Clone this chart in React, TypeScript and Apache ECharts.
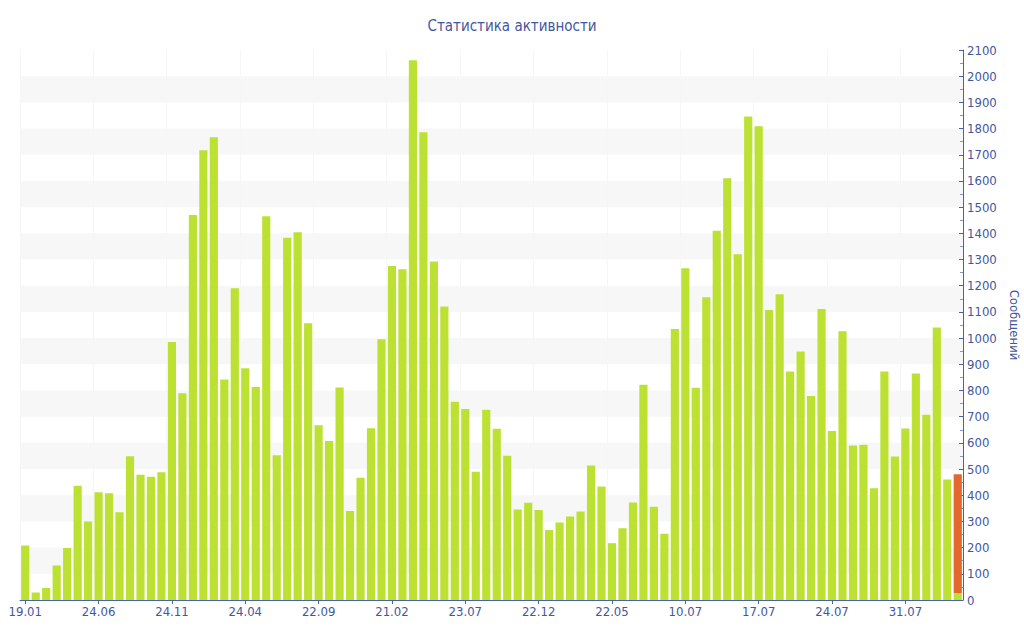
import React, { useEffect, useRef } from "react";
import * as echarts from "echarts";

const TITLE = "Статистика активности";
const Y_NAME = "Сообщений";

// tick labels shown every 7th category (index 0, 7, 14, ...)
const tickLabels = [
  "19.01", "24.06", "24.11", "24.04", "22.09", "21.02", "23.07",
  "22.12", "22.05", "10.07", "17.07", "24.07", "31.07",
];

// messages per period (green, completed)
const messageValues = [
  208, 29, 46, 132, 199, 436, 300, 411, 408, 335,
  549, 478, 471, 488, 985, 789, 1470, 1717, 1767, 842,
  1190, 885, 813, 1465, 553, 1383, 1404, 1057, 667, 607,
  811, 340, 467, 656, 996, 1275, 1263, 2061, 1786, 1292,
  1121, 757, 729, 490, 726, 654, 551, 346, 371, 344,
  267, 296, 319, 338, 514, 433, 217, 274, 372, 822,
  356, 253, 1035, 1267, 810, 1156, 1410, 1610, 1320, 1846,
  1809, 1107, 1167, 872, 949, 779, 1111, 645, 1026, 590,
  593, 427, 872, 548, 655, 865, 707, 1040, 460, 27,
];

// current (incomplete) period, stacked in orange on the last bar
const currentIndex = 89;
const currentValue = 453;

const LABEL_COLOR = "#4257a0";
const AXIS_COLOR = "#4a62a8";
const GREEN = "#bde132";
const ORANGE = "#e2682e";

export default function App() {
  const ref = useRef<HTMLDivElement>(null);

  useEffect(() => {
    if (!ref.current) return;
    const chart = echarts.init(ref.current, null, { renderer: "svg" });
    const categories = messageValues.map((_, i) => String(i));
    const currentData = messageValues.map((_, i) => (i === currentIndex ? currentValue : null));
    const font = "'DejaVu Sans Condensed', 'DejaVu Sans', Verdana, sans-serif";

    chart.setOption({
      animation: false,
      textStyle: { fontFamily: font },
      title: {
        text: TITLE,
        left: "center",
        top: 13,
        textStyle: { color: LABEL_COLOR, fontSize: 15, fontWeight: "normal", fontFamily: font },
      },
      grid: { left: 20, right: 61, top: 50, bottom: 40, containLabel: false, outerBoundsMode: "none" },
      xAxis: {
        type: "category",
        data: categories,
        boundaryGap: true,
        axisLine: { show: true, lineStyle: { color: AXIS_COLOR, width: 1 } },
        axisTick: { show: true, interval: 6, alignWithLabel: true, length: 4, lineStyle: { color: AXIS_COLOR } },
        axisLabel: {
          interval: 6,
          color: LABEL_COLOR,
          fontSize: 13,
          margin: 5,
          fontFamily: font,
          formatter: (_v: string, idx: number) => (idx % 7 === 0 ? tickLabels[idx / 7] ?? "" : ""),
        },
        splitLine: { show: true, interval: 6, lineStyle: { color: "#f6f6f6", width: 1 } },
      },
      yAxis: {
        type: "value",
        position: "right",
        min: 0,
        max: 2100,
        interval: 100,
        name: Y_NAME,
        nameLocation: "middle",
        nameRotate: -90,
        nameGap: 42,
        nameTextStyle: { color: LABEL_COLOR, fontSize: 13, fontFamily: font },
        axisLine: { show: true, lineStyle: { color: AXIS_COLOR, width: 1 } },
        axisTick: { show: true, inside: true, length: 4, lineStyle: { color: AXIS_COLOR } },
        minorTick: { show: true, splitNumber: 2, length: 3, lineStyle: { color: "#8a98c4" } },
        axisLabel: {
          color: LABEL_COLOR,
          fontSize: 13,
          margin: 4,
          fontFamily: font,
          formatter: (v: number) => String(v),
        },
        splitLine: { show: false },
        splitArea: { show: true, areaStyle: { color: ["rgba(255,255,255,0)", "#f7f7f7"] } },
      },
      series: [
        {
          type: "bar",
          stack: "total",
          data: messageValues,
          barCategoryGap: "22%",
          itemStyle: { color: GREEN },
        },
        {
          type: "bar",
          stack: "total",
          data: currentData,
          itemStyle: { color: ORANGE },
        },
      ],
    });

    return () => chart.dispose();
  }, []);

  return (
    <div
      ref={ref}
      style={{ position: "fixed", left: 0, top: 0, width: 1024, height: 640, background: "#fff" }}
    />
  );
}
